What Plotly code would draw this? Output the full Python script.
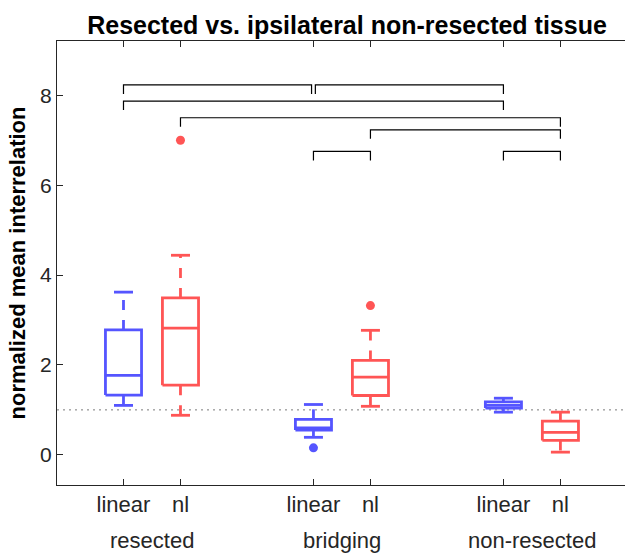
import plotly.graph_objects as go

# ---------------- data ----------------
groups = ["resected", "bridging", "non-resected"]
methods = ["linear", "nl"]
group_centers = [1, 2, 3]
offset = 0.15

# box statistics per (group, method): lower whisker, q1, median, q3, upper whisker
linear_lower = [1.10, 0.39, 0.95]
linear_q1 = [1.33, 0.55, 1.04]
linear_median = [1.77, 0.60, 1.10]
linear_q3 = [2.78, 0.79, 1.18]
linear_upper = [3.62, 1.12, 1.26]
linear_outliers = [[], [0.155], []]

nl_lower = [0.88, 1.08, 0.06]
nl_q1 = [1.55, 1.32, 0.32]
nl_median = [2.82, 1.73, 0.50]
nl_q3 = [3.49, 2.10, 0.75]
nl_upper = [4.44, 2.77, 0.95]
nl_outliers = [[7.0], [3.32], []]

ref_level = 1.0

# significance brackets: (from index, to index, level)  indices 0..5 = lin/nl per group
bracket_from = [0, 2, 0, 1, 3, 2, 4]
bracket_to = [2, 4, 4, 5, 5, 3, 5]
bracket_level = [8.23, 8.23, 7.87, 7.50, 7.23, 6.75, 6.75]
bracket_shift_from = [0.0, 0.01, 0.0, 0.0, 0.0, 0.0, 0.0]
bracket_shift_to = [-0.01, 0.0, 0.0, 0.0, 0.0, 0.0, 0.0]
bracket_leg = 0.2

BLUE = "#5555FF"
RED = "#FF5555"
AXC = "#262626"
FONT = "Liberation Sans, Arial, Helvetica, sans-serif"

positions = []
for c in group_centers:
    positions += [c - offset, c + offset]

fig = go.Figure()

hw = 0.095   # half box width
cw = 0.05    # half cap width
LW = 2.8


def add_box(x, lo, q1, med, q3, up, outs, color):
    # box
    fig.add_trace(go.Scatter(
        x=[x - hw, x + hw, x + hw, x - hw, x - hw, None, x - hw, x + hw],
        y=[q1, q1, q3, q3, q1, None, med, med],
        mode="lines", line=dict(color=color, width=LW),
        showlegend=False, hoverinfo="skip"))
    # whiskers (dashed)
    fig.add_trace(go.Scatter(
        x=[x, x, None, x, x], y=[q3, up, None, q1, lo],
        mode="lines", line=dict(color=color, width=LW, dash="10px,10px"),
        showlegend=False, hoverinfo="skip"))
    # caps
    fig.add_trace(go.Scatter(
        x=[x - cw, x + cw, None, x - cw, x + cw], y=[up, up, None, lo, lo],
        mode="lines", line=dict(color=color, width=LW),
        showlegend=False, hoverinfo="skip"))
    if outs:
        fig.add_trace(go.Scatter(
            x=[x] * len(outs), y=outs, mode="markers",
            marker=dict(color=color, size=9, line=dict(width=0)),
            showlegend=False, hoverinfo="skip"))


for g in range(3):
    add_box(positions[2 * g], linear_lower[g], linear_q1[g], linear_median[g],
            linear_q3[g], linear_upper[g], linear_outliers[g], BLUE)
    add_box(positions[2 * g + 1], nl_lower[g], nl_q1[g], nl_median[g],
            nl_q3[g], nl_upper[g], nl_outliers[g], RED)

# brackets
bx, by = [], []
for f, t, lv, sf, st in zip(bracket_from, bracket_to, bracket_level,
                            bracket_shift_from, bracket_shift_to):
    x1 = positions[f] + sf
    x2 = positions[t] + st
    bx += [x1, x1, x2, x2, None]
    by += [lv - bracket_leg, lv, lv, lv - bracket_leg, None]
fig.add_trace(go.Scatter(x=bx, y=by, mode="lines",
                         line=dict(color="black", width=1.2),
                         showlegend=False, hoverinfo="skip"))

# reference line
fig.add_shape(type="line", xref="paper", x0=0, x1=1, yref="y",
              y0=ref_level, y1=ref_level,
              line=dict(color="#7a7a7a", width=1, dash="2px,4px"), layer="below")

# group labels
for c, name in zip(group_centers, groups):
    fig.add_annotation(x=c, y=-0.125, xref="x", yref="paper", text=name,
                       showarrow=False, font=dict(family=FONT, size=22, color=AXC),
                       xanchor="center", yanchor="middle")

fig.update_layout(
    width=625, height=553,
    margin=dict(l=57, r=0, t=41, b=67.5),
    paper_bgcolor="white", plot_bgcolor="white",
    title=dict(text="<b>Resected vs. ipsilateral non-resected tissue</b>",
               font=dict(family=FONT, size=25, color="black"),
               x=0.5106, xref="paper", xanchor="center",
               y=1 - 25 / 553, yref="container", yanchor="middle"),
    xaxis=dict(range=[0.5, 3.49], tickvals=positions,
               ticktext=methods * 3, showgrid=False, zeroline=False,
               showline=True, linecolor=AXC, linewidth=1, mirror="ticks",
               ticks="inside", ticklen=6, tickcolor=AXC,
               tickfont=dict(family=FONT, size=22, color=AXC)),
    yaxis=dict(range=[-0.671, 9.207], tickvals=[0, 2, 4, 6, 8],
               showgrid=False, zeroline=False, showline=True,
               linecolor=AXC, linewidth=1, ticks="inside", ticklen=6,
               tickcolor=AXC, tickfont=dict(family=FONT, size=21, color=AXC),
               title=dict(text="<b>normalized mean interrelation</b>",
                          font=dict(family=FONT, size=22, color="black"),
                          standoff=8)),
)

fig.write_html("out.html")
